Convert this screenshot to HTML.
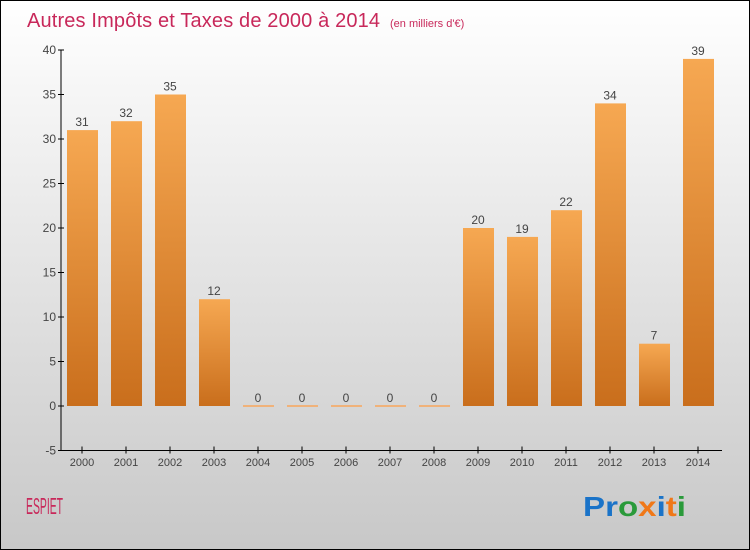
<!DOCTYPE html>
<html><head><meta charset="utf-8"><style>
body{margin:0;width:750px;height:550px;overflow:hidden;font-family:"Liberation Sans",sans-serif}
#c{position:absolute;left:0;top:0;width:748px;height:548px;border:1px solid #000;background:linear-gradient(#fff,#c8c8c8)}
</style></head><body>
<div id="c"></div>
<svg id="s" width="750" height="550" style="position:absolute;left:0;top:0">
<defs><linearGradient id="g" x1="0" y1="0" x2="0" y2="1"><stop offset="0" stop-color="#f6a852"/><stop offset="1" stop-color="#c96e1c"/></linearGradient></defs>
<text x="27" y="27" font-size="20" fill="#c8285a" textLength="353">Autres Impôts et Taxes de 2000 à 2014</text>
<text x="390" y="27" font-size="11" fill="#c8285a">(en milliers d'€)</text>
<text x="26" y="514" font-size="23" fill="#c8285a" textLength="37" lengthAdjust="spacingAndGlyphs">ESPIET</text>
<text x="583" y="516" font-size="28" font-weight="bold" textLength="103" lengthAdjust="spacingAndGlyphs"><tspan fill="#1a73c8">Pr</tspan><tspan fill="#2a9a3a">o</tspan><tspan fill="#f07818">x</tspan><tspan fill="#1a73c8">i</tspan><tspan fill="#f07818">t</tspan><tspan fill="#2a9a3a">i</tspan></text>
</svg>
<script>
const years=["2000","2001","2002","2003","2004","2005","2006","2007","2008","2009","2010","2011","2012","2013","2014"];
const values=[31,32,35,12,0,0,0,0,0,20,19,22,34,7,39];
const yTicks=[-5,0,5,10,15,20,25,30,35,40];
const s=document.getElementById('s'),NS="http://www.w3.org/2000/svg";
const y=v=>406-v*8.9, x=i=>82+i*44;
function mk(t,a,p){const e=document.createElementNS(NS,t);for(const k in a)e.setAttribute(k,a[k]);(p||s).appendChild(e);return e;}
let ax=mk('line',{x1:61,y1:y(40),x2:61,y2:y(-5),stroke:'#000'});


let bx=mk('line',{x1:61,y1:y(-5),x2:722,y2:y(-5),stroke:'#000'});


yTicks.forEach(t=>{
 mk('line',{x1:58,x2:64,y1:y(t),y2:y(t),stroke:'#000'});
 const l=mk('text',{x:56,y:y(t)+4,'text-anchor':'end','font-size':12,fill:'#444'});l.textContent=t;
 
 
});
years.forEach((yr,i)=>{
 mk('line',{x1:x(i),x2:x(i),y1:y(-5)-4,y2:y(-5)+3,stroke:'#000'});
 const l=mk('text',{x:x(i),y:466,'text-anchor':'middle','font-size':11,fill:'#444'});l.textContent=yr;
 
 
 const v=values[i];
 let b;
 if(v===0){b=mk('rect',{x:x(i)-15,y:y(0)-1,width:31,height:2,fill:'#f0b27a'});}
 else{b=mk('rect',{x:x(i)-15,y:y(v),width:31,height:y(0)-y(v),fill:'url(#g)'});}
 
 
 const vl=mk('text',{x:x(i),y:y(v)-4,'text-anchor':'middle','font-size':12,fill:'#444'});vl.textContent=v;
 
 
});
</script>
</body></html>
